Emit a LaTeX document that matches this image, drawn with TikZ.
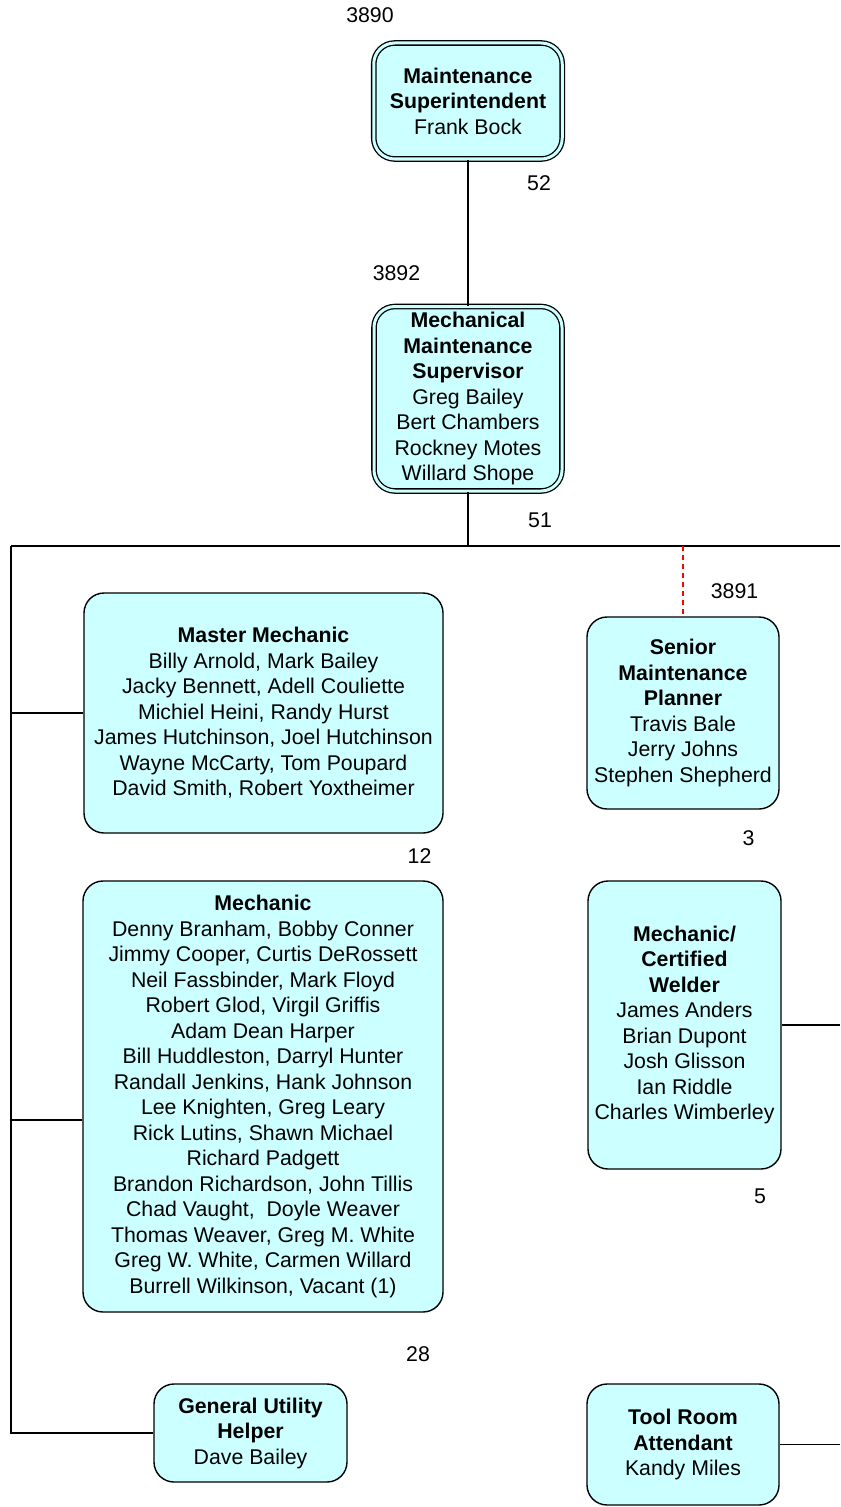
\documentclass[tikz,border=0pt]{standalone}
\usepackage{fontspec}
\setmainfont{Liberation Sans}
\usepackage{tikz}
\definecolor{boxcyan}{HTML}{CCFFFF}
\def\orgfont{\fontsize{21.3bp}{25.5bp}\selectfont}

\begin{document}
\begin{tikzpicture}[x=1bp, y=-1bp, line width=1.4bp,
		orgbox/.style={draw, fill=boxcyan, rounded corners=20bp, align=center, inner sep=0pt, font=\orgfont},
		headbox/.style={orgbox, double=boxcyan, double distance=3bp, line width=1.3bp, rounded corners=21bp},
		count/.style={inner sep=0pt, font=\orgfont}]
			%%%%% START %%%%%
			
			\useasboundingbox (0, 0) rectangle (840, 1507);
			
			\node[headbox, minimum width=188.5bp, minimum height=116bp] (super) at (468, 101) {\textbf{Maintenance}\\\textbf{Superintendent}\\Frank Bock};
			\node[count] (n3890) at (370, 15) {3890};
			\node[count] (n52) at (539, 183) {52};
			
			\node[headbox, minimum width=188bp, minimum height=184.5bp] (mechsup) at (468, 398.75) {\textbf{Mechanical}\\\textbf{Maintenance}\\\textbf{Supervisor}\\Greg Bailey\\Bert Chambers\\Rockney Motes\\Willard Shope};
			\node[count] (n3892) at (396.5, 273) {3892};
			\node[count] (n51) at (540, 520) {51};
			
			\coordinate (busL) at (11, 546);
			\coordinate (busR) at (840, 546);
			
			\node[orgbox, minimum width=359bp, minimum height=240bp] (master) at (263.5, 713) {\textbf{Master Mechanic}\\Billy Arnold, Mark Bailey\\Jacky Bennett, Adell Couliette\\Michiel Heini, Randy Hurst\\James Hutchinson, Joel Hutchinson\\Wayne McCarty, Tom Poupard\\David Smith, Robert Yoxtheimer};
			\node[count] (n12) at (419.5, 856) {12};
			
			\node[orgbox, minimum width=360bp, minimum height=431bp] (mech) at (263, 1096.5) {\textbf{Mechanic}\\Denny Branham, Bobby Conner\\Jimmy Cooper, Curtis DeRossett\\Neil Fassbinder, Mark Floyd\\Robert Glod, Virgil Griffis\\Adam Dean Harper\\Bill Huddleston, Darryl Hunter\\Randall Jenkins, Hank Johnson\\Lee Knighten, Greg Leary\\Rick Lutins, Shawn Michael\\Richard Padgett\\Brandon Richardson, John Tillis\\Chad Vaught, \ Doyle Weaver\\Thomas Weaver, Greg M. White\\Greg W. White, Carmen Willard\\Burrell Wilkinson, Vacant (1)};
			\node[count] (n28) at (418, 1354) {28};
			\coordinate (mechtap) at (11, 1120);
			
			\node[orgbox, minimum width=193bp, minimum height=98bp] (helper) at (250.5, 1433) {\textbf{General Utility}\\\textbf{Helper}\\Dave Bailey};
			
			\node[orgbox, minimum width=192bp, minimum height=192bp] (planner) at (683, 713) {\textbf{Senior}\\\textbf{Maintenance}\\\textbf{Planner}\\Travis Bale\\Jerry Johns\\Stephen Shepherd};
			\node[count] (n3891) at (734.5, 591) {3891};
			\node[count] (n3) at (748.5, 838) {3};
			
			\node[orgbox, minimum width=193bp, minimum height=288bp] (welder) at (684.5, 1025) {\textbf{Mechanic/}\\\textbf{Certified}\\\textbf{Welder}\\James Anders\\Brian Dupont\\Josh Glisson\\Ian Riddle\\Charles Wimberley};
			\node[count] (n5) at (760, 1196) {5};
			
			\node[orgbox, minimum width=192bp, minimum height=121bp] (toolroom) at (683, 1444.5) {\textbf{Tool Room}\\\textbf{Attendant}\\Kandy Miles};
			
			% connectors
			\draw (super.south) -- (mechsup.north);
			\draw (mechsup.south) -- (mechsup.south |- busL);
			\draw (busL) -- (busR);
			\draw (busL) |- (helper.west);
			\draw (busL |- master.west) -- (master.west);
			\draw (mechtap) -- (mechtap -| mech.west);
			\draw[red, dash pattern=on 5bp off 4bp] (planner.north |- busL) -- (planner.north);
			\draw (welder.east) -- (welder.east -| busR);
			\draw (toolroom.east) -- (toolroom.east -| busR);
			
			%%%%% END %%%%%
		\end{tikzpicture}
\end{document}
